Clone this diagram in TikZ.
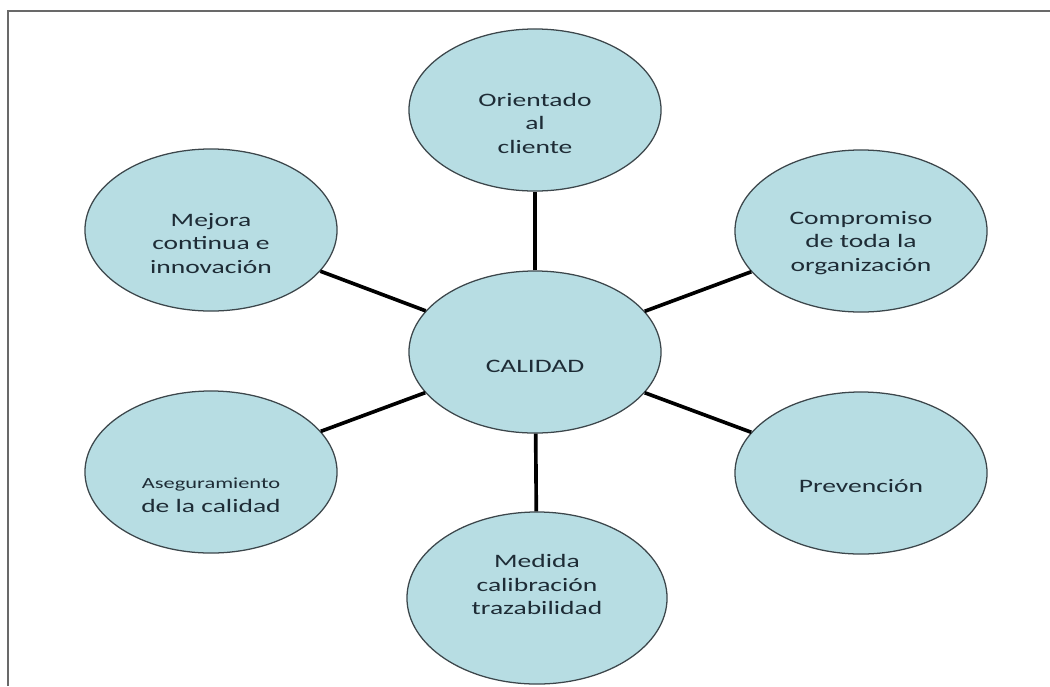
\documentclass[tikz,border=0pt]{standalone}
\usepackage{fontspec}
\newfontfamily\bubblefont{Carlito}[FakeStretch=1.45]
\usetikzlibrary{shapes.geometric}
\definecolor{bubbleblue}{RGB}{183,221,227}
\definecolor{bubbleline}{RGB}{60,70,75}
\definecolor{textslate}{RGB}{30,44,54}
\definecolor{framegray}{RGB}{105,105,105}

\begin{document}
\begin{tikzpicture}[x=0.025cm, y=-0.025cm,
    bubble/.style={ellipse, draw=bubbleline, fill=bubbleblue, line width=0.9pt, minimum width=6.3cm, minimum height=4.05cm, inner sep=0pt},
    bubbletext/.style={align=center, text=textslate, font=\bubblefont\fontsize{13.5}{16.7}\selectfont, inner sep=0pt},
    link/.style={line width=2.6pt, black}]
    \useasboundingbox (0,0) rectangle (1050,686);
    \draw[framegray, line width=1.1pt] (8,686) -- (8,11) -- (1050,11);

    \node[bubble, label={[bubbletext, yshift=-0.37cm]center:CALIDAD}] (calidad) at (535,352) {};
    \node[bubble, label={[bubbletext, yshift=-0.33cm]center:Orientado\\al\\cliente}] (orient) at (535,110) {};
    \node[bubble, label={[bubbletext, yshift=-0.3cm]center:Compromiso\\de toda la\\organización}] (compromiso) at (861,231) {};
    \node[bubble, label={[bubbletext, yshift=-0.33cm]center:Prevención}] (prevencion) at (861,473) {};
    \node[bubble, minimum width=6.5cm, minimum height=4.3cm, label={[bubbletext, yshift=0.33cm]center:Medida\\calibración\\trazabilidad}] (medida) at (537,598) {};
    \node[bubble, label={[bubbletext, yshift=-0.58cm]center:{\fontsize{11}{16.7}\selectfont Aseguramiento}\\de la calidad}] (aseguramiento) at (211,472) {};
    \node[bubble, label={[bubbletext, yshift=-0.33cm]center:Mejora\\continua e\\innovación}] (mejora) at (211,230) {};

    \draw[link] (calidad) -- (orient);
    \draw[link] (calidad) -- (compromiso);
    \draw[link] (calidad) -- (prevencion);
    \draw[link] (calidad) -- (medida);
    \draw[link] (calidad) -- (aseguramiento);
    \draw[link] (calidad) -- (mejora);
\end{tikzpicture}
\end{document}
